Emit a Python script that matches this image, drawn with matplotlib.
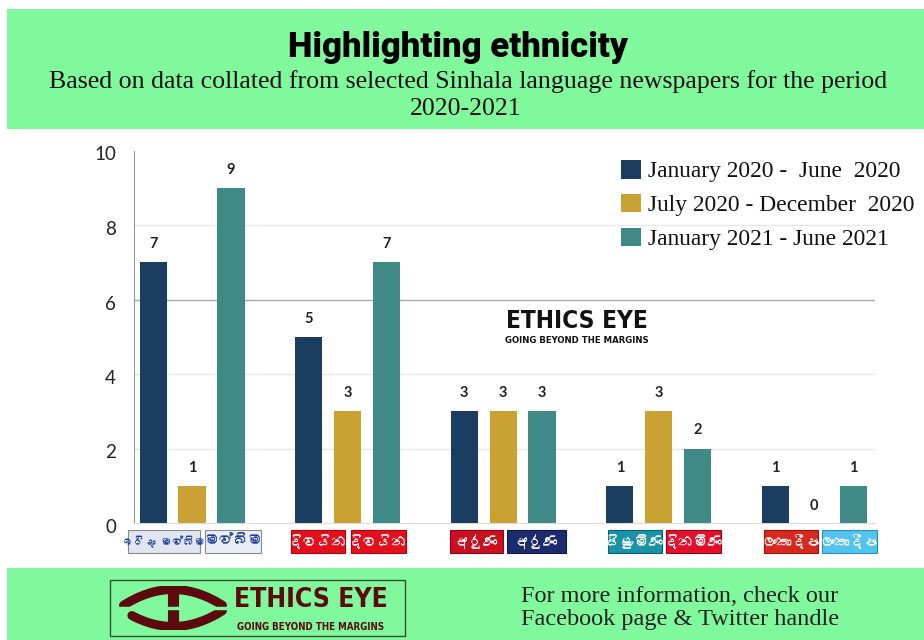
import matplotlib
matplotlib.use("Agg")
import matplotlib.pyplot as plt
import numpy as np
from matplotlib import font_manager
from matplotlib.font_manager import FontProperties
from matplotlib.ft2font import FT2Font
from matplotlib.patches import Rectangle
from matplotlib.transforms import blended_transform_factory, ScaledTranslation

# ---------------- data ----------------
categories = ["Mawbima", "Divaina", "Aruna", "Dinamina", "Lankadeepa"]
series_names = ["January 2020 -  June  2020",
                "July 2020 - December  2020",
                "January 2021 - June 2021"]
values_h1_2020 = [7, 5, 3, 1, 1]
values_h2_2020 = [1, 3, 3, 3, 0]
values_h1_2021 = [9, 7, 3, 2, 1]
yticks = [0, 2, 4, 6, 8, 10]

# newspaper logo labels (Sinhala), with Latin fallback
logo_sinhala = [("ඉරිදා මව්බිම", "මව්බිම"), ("දිවයින", "දිවයින"), ("අරුණ", "අරුණ"),
                ("සිළුමිණ", "දිනමිණ"), ("ලංකාදීප", "ලංකාදීප")]
logo_latin = [("Irida Mawbima", "Mawbima"), ("Divaina", "Divaina"), ("Aruna", "Aruna"),
              ("Silumina", "Dinamina"), ("Lankadeepa", "Lankadeepa")]

colors = ["#1b3d5f", "#c9a233", "#3f8a87"]
GREEN = "#80f89c"
MAROON = "#5c0a0e"

# find a font that covers Sinhala, and a narrow bold face if any
sinhala_font = None
narrow_file = None
for f in font_manager.fontManager.ttflist:
    nm = (f.name + " " + str(f.fname)).lower()
    if narrow_file is None and ("condensed" in nm or "narrow" in nm) and \
            (str(f.weight) in ("bold", "700", "800", "900") or "bold" in nm):
        narrow_file = f.fname
    if sinhala_font is None:
        try:
            cm = FT2Font(f.fname).get_charmap()
            if 0x0DB8 in cm and 0x0DD2 in cm:
                sinhala_font = f.name
        except Exception:
            pass

def narrow(size):
    if narrow_file:
        return dict(fontproperties=FontProperties(fname=narrow_file, size=size))
    return dict(family=["Roboto", "DejaVu Sans"], weight="bold", fontsize=size * 0.72)

W, H = 924, 640
fig = plt.figure(figsize=(W / 100, H / 100), dpi=100)
fig.patch.set_facecolor("white")

def fx(px):
    return px / W

def fy(py):
    return 1 - py / H

# header and footer bands
fig.patches.append(Rectangle((fx(7), fy(129)), fx(917), 120 / H, transform=fig.transFigure,
                             facecolor=GREEN, edgecolor="none", zorder=0))
fig.patches.append(Rectangle((fx(7), 0), fx(917), 72 / H, transform=fig.transFigure,
                             facecolor=GREEN, edgecolor="none", zorder=0))

fig.text(fx(458), fy(47), "Highlighting ethnicity", ha="center", va="center",
         family=["Roboto", "DejaVu Sans"], weight="black", fontsize=25, color="black")
fig.text(fx(468), fy(82), "Based on data collated from selected Sinhala language newspapers for the period",
         ha="center", va="center", family="Liberation Serif", fontsize=18.6, color="#111111")
fig.text(fx(466), fy(109), "2020-2021", ha="center", va="center",
         family="Liberation Serif", fontsize=18.6, color="#111111")

# ---------------- chart ----------------
ax = fig.add_axes([fx(134), fy(523), fx(875 - 134), 372.5 / H], zorder=2)
x = np.arange(len(categories))
offset = 0.25
bw = 0.175
all_vals = [values_h1_2020, values_h2_2020, values_h1_2021]
for k, vals in enumerate(all_vals):
    ax.bar(x + (k - 1) * offset, vals, width=bw, color=colors[k], zorder=3,
           label=series_names[k])
    for xi, v in zip(x + (k - 1) * offset, vals):
        ax.annotate(str(v), (xi, v), xytext=(0, 8 if v > 0 else 7), textcoords="offset points",
                    ha="center", va="bottom", family=["Lato", "DejaVu Sans"], weight="bold",
                    fontsize=10.5, color="#222222")

ax.set_xlim(-0.373, 4.39)
ax.set_ylim(0, 10)
ax.set_yticks(yticks)
ax.set_yticklabels([str(t) for t in yticks], family=["Lato", "DejaVu Sans"], fontsize=13.5,
                   color="#222222")
ax.tick_params(axis="y", length=0, pad=13)
ax.tick_params(axis="x", length=0, labelbottom=False)
shift = ScaledTranslation(0, -3 / 100, fig.dpi_scale_trans)
for lab in ax.get_yticklabels():
    lab.set_transform(lab.get_transform() + shift)
for t in [2, 4, 8]:
    ax.axhline(t, color="#e6e6e6", lw=1, zorder=1)
ax.axhline(6, color="#a8a8a8", lw=1, zorder=1)
for s in ["top", "right"]:
    ax.spines[s].set_visible(False)
ax.spines["bottom"].set_color("#dddddd")
ax.spines["left"].set_color("#999999")

# legend
leg = ax.legend(loc="upper left", bbox_to_anchor=(fx(621), fy(160)), bbox_transform=fig.transFigure,
                frameon=False, prop={"family": "Liberation Serif", "size": 16.9},
                handlelength=0.85, handleheight=0.85, handletextpad=0.3, labelspacing=0.48,
                borderpad=0, borderaxespad=0)
for txt in leg.get_texts():
    txt.set_color("#111111")

# watermark
ax.text(0.598, 0.542, "ETHICS EYE", transform=ax.transAxes, ha="center", va="center",
        color="#111111", zorder=2, **narrow(17.5))
ax.text(0.598, 0.489, "GOING BEYOND THE MARGINS", transform=ax.transAxes, ha="center", va="center",
        color="#111111", zorder=2, **narrow(6.8))

# logo labels under each category
px_per_unit = 155.5
logo_styles = [
    (("#dfe6f1", "#1f3c9a", "#8a8a8a"), ("#e9eef6", "#1f3c9a", "#8a8a8a")),
    (("#e3101c", "white", "#b00010"), ("#e3101c", "white", "#b00010")),
    (("#c8101e", "white", "#900010"), ("#1c2b6e", "white", "#101a40")),
    (("#1993a5", "white", "#0c6070"), ("#e2102a", "white", "#a00010")),
    (("#d9281e", "white", "#a01010"), ("#52c3ec", "white", "#2a90c0")),
]
# pixel offsets of boxes relative to category centre (left, right)
logo_px = [((-64, 8), (13, 69)), ((-57, -3), (3, 58)), ((-53, 0), (4, 63)),
           ((-51, 3), (7, 62)), ((-50, 4), (8, 63))]
trans = blended_transform_factory(ax.transData, ax.transAxes)
labels = logo_sinhala if sinhala_font else logo_latin
lfam = [sinhala_font, "DejaVu Sans"] if sinhala_font else ["DejaVu Sans"]
y0 = (523 - 553) / 372.5
y1 = (523 - 530) / 372.5
for i in range(len(categories)):
    for j in range(2):
        l, r = logo_px[i][j]
        xl = x[i] + l / px_per_unit
        xr = x[i] + r / px_per_unit
        bg, fg, ec = logo_styles[i][j]
        ax.add_patch(Rectangle((xl, y0), xr - xl, y1 - y0, transform=trans, facecolor=bg,
                               edgecolor=ec, lw=0.8, clip_on=False, zorder=4))
        ax.text((xl + xr) / 2, (y0 + y1) / 2, labels[i][j], transform=trans, ha="center",
                va="center", family=lfam, weight="bold",
                fontsize=10.5 if len(labels[i][j]) < 9 else 8.0,
                color=fg, clip_on=False, zorder=5)

# ---------------- footer ----------------
fig.patches.append(Rectangle((fx(110), fy(636)), fx(295), 56 / H, transform=fig.transFigure,
                             facecolor="none", edgecolor="#3a4a3a", lw=1, zorder=1))
lax = fig.add_axes([fx(118), fy(630), fx(110), 44 / H], zorder=3)
lax.set_xlim(0, 1)
lax.set_ylim(-1, 1)
lax.axis("off")
tt = np.linspace(0.05, 0.95, 60)
arc = 1 - ((tt - 0.5) / 0.45) ** 2
lax.plot(tt, 0.12 + 0.72 * arc, color=MAROON, lw=6.5, solid_capstyle="round")
lax.plot(tt[5:], -0.12 - 0.72 * arc[5:], color=MAROON, lw=6.5, solid_capstyle="round")
lax.plot([0.5, 0.5], [-0.84, 0.84], color=MAROON, lw=8)
lax.plot([0.02, 0.98], [0, 0], color=GREEN, lw=2.5)

fig.text(fx(311), fy(600), "ETHICS EYE", ha="center", va="center",
         color=MAROON, zorder=3, **narrow(19))
fig.text(fx(311), fy(627), "GOING BEYOND THE MARGINS", ha="center", va="center",
         color=MAROON, zorder=3, **narrow(7))

fig.text(fx(521), fy(597), "For more information, check our", ha="left", va="center",
         family="Liberation Serif", fontsize=17.5, color="#222222")
fig.text(fx(521), fy(619), "Facebook page & Twitter handle", ha="left", va="center",
         family="Liberation Serif", fontsize=17.5, color="#222222")

fig.savefig("out.png", dpi=100, facecolor="white")
